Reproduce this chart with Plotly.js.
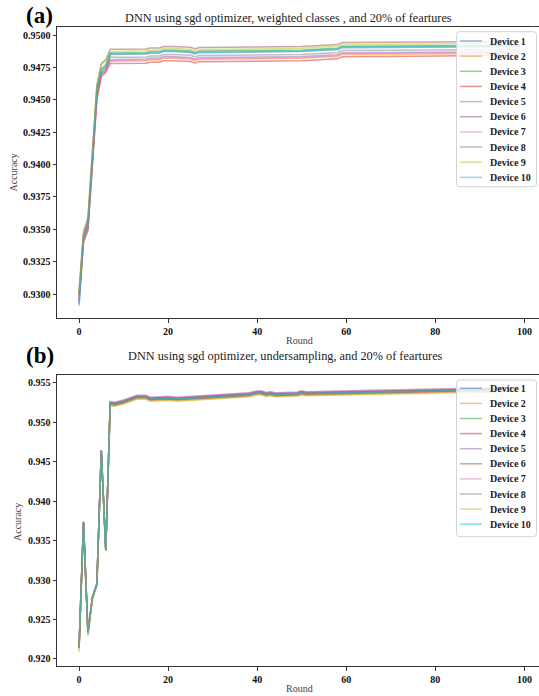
<!DOCTYPE html>
<html><head><meta charset="utf-8">
<script src="https://cdn.plot.ly/plotly-3.0.1.min.js"></script>
<style>html,body{margin:0;padding:0;overflow:hidden;background:#fff}#chart{width:542px;height:696px}</style>
</head><body><div id="chart"></div>
<script>
const deviceNames = ['Device 1','Device 2','Device 3','Device 4','Device 5','Device 6','Device 7','Device 8','Device 9','Device 10'];
const deviceColors = ['#1f77b4','#ff7f0e','#2ca02c','#d62728','#9467bd','#8c564b','#e377c2','#7f7f7f','#bcbd22','#17becf'];

const titleA = 'DNN using sgd optimizer, weighted classes , and 20% of feartures';
const titleB = 'DNN using sgd optimizer, undersampling, and 20% of feartures';

// (a) weighted classes
const roundsA = [0,1,2,3,4,5,6,7,8,12,15,16,18,19,21,25,26,27,30,40,50,52,55,58,59,70,80,90,99];
const accA1 = [0.9292,0.9341,0.9351,0.9401,0.9453,0.9471,0.9474,0.9485,0.94850,0.94851,0.94853,0.94860,0.94860,0.94872,0.94872,0.94865,0.94854,0.94864,0.94864,0.94868,0.94872,0.94878,0.94882,0.94886,0.94902,0.94904,0.94906,0.94908,0.94910];
const accA2 = [0.9296,0.9343,0.9352,0.9402,0.9451,0.9469,0.9472,0.9480,0.94798,0.94799,0.94801,0.94808,0.94808,0.94820,0.94820,0.94813,0.94802,0.94812,0.94812,0.94816,0.94820,0.94826,0.94830,0.94834,0.94850,0.94852,0.94854,0.94856,0.94858];
const accA3 = [0.9301,0.9346,0.9356,0.9405,0.9458,0.9474,0.9477,0.9486,0.94862,0.94863,0.94865,0.94872,0.94872,0.94884,0.94884,0.94877,0.94866,0.94876,0.94876,0.94880,0.94884,0.94890,0.94894,0.94898,0.94914,0.94916,0.94918,0.94920,0.94922];
const accA4 = [0.9294,0.9340,0.9349,0.9399,0.9450,0.9468,0.9471,0.9478,0.94780,0.94781,0.94783,0.94790,0.94790,0.94802,0.94802,0.94795,0.94784,0.94794,0.94794,0.94798,0.94802,0.94808,0.94812,0.94816,0.94832,0.94834,0.94836,0.94840,0.94845];
const accA5 = [0.9297,0.9342,0.9352,0.9402,0.9454,0.9470,0.9473,0.9481,0.94812,0.94813,0.94815,0.94822,0.94822,0.94834,0.94834,0.94827,0.94816,0.94826,0.94826,0.94830,0.94834,0.94840,0.94844,0.94848,0.94864,0.94866,0.94868,0.94870,0.94872];
const accA6 = [0.9300,0.9347,0.9358,0.9407,0.9461,0.9478,0.9481,0.9489,0.94890,0.94891,0.94893,0.94900,0.94900,0.94912,0.94912,0.94905,0.94894,0.94904,0.94904,0.94908,0.94912,0.94918,0.94922,0.94926,0.94942,0.94944,0.94946,0.94948,0.94950];
const accA7 = [0.9295,0.9341,0.9350,0.9400,0.9452,0.9469,0.9472,0.9480,0.94805,0.94806,0.94808,0.94815,0.94815,0.94827,0.94827,0.94820,0.94809,0.94819,0.94819,0.94823,0.94827,0.94833,0.94837,0.94841,0.94857,0.94859,0.94861,0.94863,0.94865];
const accA8 = [0.9299,0.9345,0.9354,0.9404,0.9456,0.9472,0.9475,0.9483,0.94828,0.94829,0.94831,0.94838,0.94838,0.94850,0.94850,0.94843,0.94832,0.94842,0.94842,0.94846,0.94850,0.94856,0.94860,0.94864,0.94880,0.94882,0.94884,0.94886,0.94888];
const accA9 = [0.9303,0.9349,0.9360,0.9409,0.9462,0.9477,0.9480,0.9487,0.94875,0.94876,0.94878,0.94885,0.94885,0.94897,0.94897,0.94890,0.94879,0.94889,0.94889,0.94893,0.94897,0.94903,0.94907,0.94911,0.94927,0.94929,0.94931,0.94933,0.94935];
const accA10 = [0.9291,0.9344,0.9355,0.9404,0.9457,0.9473,0.9476,0.9486,0.94857,0.94858,0.94860,0.94867,0.94867,0.94879,0.94879,0.94872,0.94861,0.94871,0.94871,0.94875,0.94879,0.94885,0.94889,0.94893,0.94909,0.94911,0.94913,0.94915,0.94917];

// (b) undersampling
const roundsB = [0,1,2,3,4,5,6,7,8,10,13,15,16,20,22,30,38,40,41,42,43,44,49,50,51,60,70,80,90,99];
const accB1 = [0.92140,0.93732,0.92330,0.92780,0.92950,0.94642,0.93380,0.95250,0.95240,0.95270,0.95330,0.95330,0.95305,0.95315,0.95305,0.95330,0.95360,0.95385,0.95385,0.95365,0.95375,0.95360,0.95370,0.95385,0.95375,0.95385,0.95395,0.95410,0.95420,0.95430];
const accB2 = [0.92090,0.93725,0.92290,0.92760,0.92935,0.94635,0.93375,0.95220,0.95210,0.95240,0.95300,0.95300,0.95275,0.95285,0.95275,0.95300,0.95330,0.95355,0.95355,0.95335,0.95345,0.95330,0.95340,0.95355,0.95345,0.95355,0.95365,0.95380,0.95390,0.95400];
const accB3 = [0.92142,0.93730,0.92332,0.92780,0.92950,0.94640,0.93382,0.95235,0.95225,0.95255,0.95315,0.95315,0.95290,0.95300,0.95290,0.95315,0.95345,0.95370,0.95370,0.95350,0.95360,0.95345,0.95355,0.95370,0.95360,0.95370,0.95380,0.95395,0.95405,0.95415];
const accB4 = [0.92140,0.93733,0.92330,0.92780,0.92950,0.94640,0.93380,0.95232,0.95222,0.95252,0.95312,0.95312,0.95287,0.95297,0.95287,0.95312,0.95342,0.95367,0.95367,0.95347,0.95357,0.95342,0.95352,0.95367,0.95357,0.95367,0.95377,0.95392,0.95402,0.95412];
const accB5 = [0.92145,0.93740,0.92333,0.92782,0.92952,0.94645,0.93382,0.95262,0.95252,0.95282,0.95342,0.95342,0.95317,0.95327,0.95317,0.95342,0.95372,0.95397,0.95397,0.95377,0.95387,0.95372,0.95382,0.95397,0.95387,0.95397,0.95407,0.95422,0.95432,0.95442];
const accB6 = [0.92143,0.93735,0.92332,0.92782,0.92950,0.94643,0.93380,0.95255,0.95245,0.95275,0.95335,0.95335,0.95310,0.95320,0.95310,0.95335,0.95365,0.95390,0.95390,0.95370,0.95380,0.95365,0.95375,0.95390,0.95380,0.95390,0.95400,0.95415,0.95425,0.95435];
const accB7 = [0.92148,0.93750,0.92335,0.92783,0.92953,0.94648,0.93383,0.95265,0.95255,0.95285,0.95345,0.95345,0.95320,0.95330,0.95320,0.95345,0.95375,0.95400,0.95400,0.95380,0.95390,0.95375,0.95385,0.95400,0.95390,0.95400,0.95410,0.95425,0.95435,0.95445];
const accB8 = [0.92140,0.93730,0.92330,0.92780,0.92950,0.94640,0.93380,0.95245,0.95235,0.95265,0.95325,0.95325,0.95300,0.95310,0.95300,0.95325,0.95355,0.95380,0.95380,0.95360,0.95370,0.95355,0.95365,0.95380,0.95370,0.95380,0.95390,0.95405,0.95415,0.95425];
const accB9 = [0.92130,0.93725,0.92315,0.92755,0.92930,0.94635,0.93375,0.95212,0.95202,0.95232,0.95292,0.95292,0.95267,0.95277,0.95267,0.95292,0.95322,0.95347,0.95347,0.95327,0.95337,0.95322,0.95332,0.95347,0.95337,0.95347,0.95357,0.95372,0.95382,0.95392];
const accB10 = [0.92140,0.93730,0.92330,0.92780,0.92950,0.94640,0.93380,0.95240,0.95230,0.95260,0.95320,0.95320,0.95295,0.95305,0.95295,0.95320,0.95350,0.95375,0.95375,0.95355,0.95365,0.95350,0.95360,0.95375,0.95365,0.95375,0.95385,0.95400,0.95410,0.95420];

const seriesA = [accA1,accA2,accA3,accA4,accA5,accA6,accA7,accA8,accA9,accA10];
const seriesB = [accB1,accB2,accB3,accB4,accB5,accB6,accB7,accB8,accB9,accB10];

const W = 542, H = 696;
const FX = v => v / W;
const FY = v => 1 - v / H;
const SERIF = 'Liberation Serif, Times New Roman, serif';

const traces = [];
seriesA.forEach((ys, i) => traces.push({
  x: roundsA, y: ys, xaxis: 'x', yaxis: 'y', mode: 'lines', name: deviceNames[i],
  line: {color: deviceColors[i], width: 1.5}, opacity: 0.5, showlegend: false, hoverinfo: 'skip'
}));
seriesB.forEach((ys, i) => traces.push({
  x: roundsB, y: ys, xaxis: 'x2', yaxis: 'y2', mode: 'lines', name: deviceNames[i],
  line: {color: deviceColors[i], width: 1.5}, opacity: 0.5, showlegend: false, hoverinfo: 'skip'
}));

const axisStyle = {
  showline: true, mirror: true, linecolor: '#333', linewidth: 1,
  ticks: 'outside', ticklen: 3.5, tickwidth: 1, tickcolor: '#333',
  showgrid: false, zeroline: false,
  tickfont: {family: SERIF, size: 10, color: '#111', weight: 'bold'}
};

function roundRect(x0, y0, x1, y1, r) {
  const P = (x, y) => `${FX(x)},${FY(y)}`;
  return `M${P(x0+r,y0)} L${P(x1-r,y0)} Q${P(x1,y0)} ${P(x1,y0+r)} L${P(x1,y1-r)} Q${P(x1,y1)} ${P(x1-r,y1)} L${P(x0+r,y1)} Q${P(x0,y1)} ${P(x0,y1-r)} L${P(x0,y0+r)} Q${P(x0,y0)} ${P(x0+r,y0)} Z`;
}

const shapes = [];
const annotations = [];
function addLegend(top, bottom, firstY, step) {
  shapes.push({type: 'path', xref: 'paper', yref: 'paper', path: roundRect(456.5, top, 536.5, bottom, 3),
    fillcolor: 'rgba(255,255,255,0.8)', line: {color: '#d4d4d4', width: 1}, layer: 'above'});
  deviceNames.forEach((nm, i) => {
    const yc = firstY + step * i;
    shapes.push({type: 'line', xref: 'paper', yref: 'paper', x0: FX(460), x1: FX(482), y0: FY(yc), y1: FY(yc),
      line: {color: deviceColors[i], width: 1.5}, opacity: 0.5, layer: 'above'});
    annotations.push({xref: 'paper', yref: 'paper', x: FX(488), y: FY(yc), xanchor: 'left', yanchor: 'middle',
      text: nm, showarrow: false, font: {family: SERIF, size: 10, color: '#222', weight: 'bold'}});
  });
}
addLegend(31.7, 186.7, 41, 15.15);
addLegend(380, 536.7, 388.3, 15.1);

function txt(text, x, y, size, opts) {
  annotations.push(Object.assign({xref: 'paper', yref: 'paper', x: FX(x), y: FY(y), xanchor: 'center', yanchor: 'middle',
    text: text, showarrow: false, font: {family: SERIF, size: size, color: '#222'}}, opts || {}));
}
txt('(a)', 39, 16, 23, {font: {family: SERIF, size: 23, color: '#000', weight: 'bold'}});
txt('(b)', 40, 355, 23, {font: {family: SERIF, size: 23, color: '#000', weight: 'bold'}});
txt(titleA, 288.5, 18, 12.3);
txt(titleB, 285, 356, 12.3);
txt('Round', 299, 340, 10, {font: {family: SERIF, size: 10, color: '#444'}});
txt('Round', 299, 688, 10, {font: {family: SERIF, size: 10, color: '#444'}});
txt('Accuracy', 12.5, 173, 10, {textangle: -90, font: {family: SERIF, size: 10, color: '#444'}});
txt('Accuracy', 17, 522, 10, {textangle: -90, font: {family: SERIF, size: 10, color: '#444'}});

const layout = {
  width: W, height: H, margin: {l: 0, r: 0, t: 0, b: 0},
  paper_bgcolor: '#fff', plot_bgcolor: '#fff', showlegend: false,
  xaxis: Object.assign({}, axisStyle, {domain: [57 / W, 1], anchor: 'y', range: [-4.95, 103.95], tick0: 0, dtick: 20}),
  yaxis: Object.assign({}, axisStyle, {domain: [FY(318), FY(27)], anchor: 'x', range: [0.92815, 0.95062], tick0: 0.93, dtick: 0.0025, tickformat: '.4f'}),
  xaxis2: Object.assign({}, axisStyle, {domain: [57 / W, 1], anchor: 'y2', range: [-4.95, 103.95], tick0: 0, dtick: 20}),
  yaxis2: Object.assign({}, axisStyle, {domain: [FY(666), FY(375)], anchor: 'x2', range: [0.91911, 0.95601], tick0: 0.92, dtick: 0.005, tickformat: '.3f'}),
  shapes: shapes, annotations: annotations
};

Plotly.newPlot('chart', traces, layout, {displayModeBar: false, staticPlot: true});
</script>
</body></html>
